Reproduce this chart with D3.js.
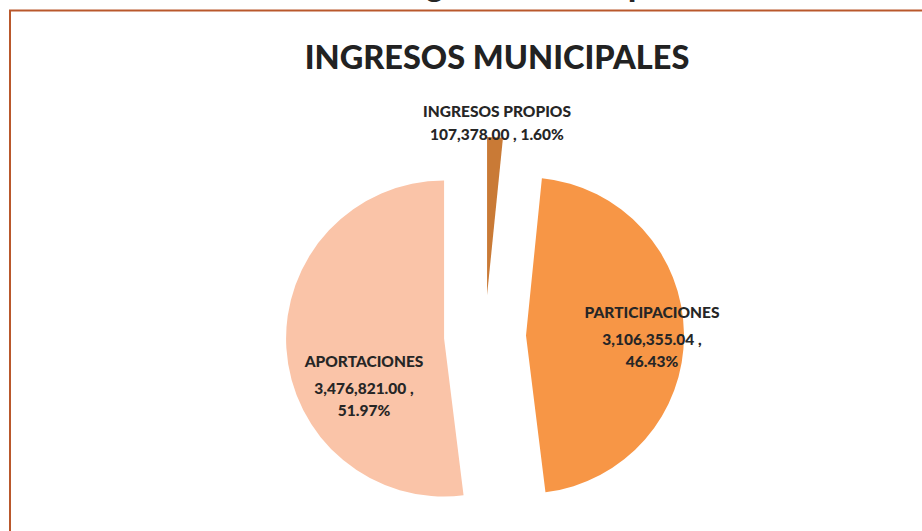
<!DOCTYPE html>
<html>
<head>
<meta charset="utf-8">
<script src="https://cdn.jsdelivr.net/npm/d3@7"></script>
<style>
  body { margin: 0; background: #fff; }
  svg { display: block; }
</style>
</head>
<body>
<div id="chart"></div>
<script>
// *** Data
var categories = ["INGRESOS PROPIOS", "PARTICIPACIONES", "APORTACIONES"];
var amounts = [107378.00, 3106355.04, 3476821.00];
var percents = ["1.60%", "46.43%", "51.97%"];
var colors = ["#c97a36", "#f79646", "#fac4a8"];

var width = 922, height = 531;
var cx = 485, cy = 336, radius = 158, explode = 41;

var svg = d3.select("#chart").append("svg")
    .attr("width", width)
    .attr("height", height);

// heading of the page above, only its descenders show
svg.append("text")
    .attr("x", 398)
    .attr("y", -3)
    .style("font-family", "Lato, 'Open Sans', sans-serif")
    .style("font-weight", "900")
    .style("font-size", "32.5px")
    .attr("fill", "#262626")
    .text("Ingresos Municipales");

// chart frame (left and top edges visible)
svg.append("path")
    .attr("d", "M10,531 L10,10.5 L922,10.5")
    .attr("fill", "none")
    .attr("stroke", "#b9582c")
    .attr("stroke-width", 2);

svg.append("text")
    .attr("x", 497)
    .attr("y", 69)
    .attr("text-anchor", "middle")
    .style("font-family", "Lato, 'Open Sans', sans-serif")
    .style("font-weight", "900")
    .style("font-size", "32.5px")
    .attr("fill", "#222222")
    .text("INGRESOS MUNICIPALES");

var pie = d3.pie().sort(null).value(function(d) { return d; });
var arc = d3.arc().innerRadius(0).outerRadius(radius);
var arcs = pie(amounts);

var g = svg.append("g")
    .attr("transform", "translate(" + cx + "," + cy + ")");

g.selectAll(".slice")
    .data(arcs)
    .enter().append("path")
    .attr("class", "slice")
    .attr("d", arc)
    .attr("fill", function(d, i) { return colors[i]; })
    .attr("transform", function(d) {
        var a = (d.startAngle + d.endAngle) / 2;
        return "translate(" + (Math.sin(a) * explode) + "," + (-Math.cos(a) * explode) + ")";
    });

// *** Labels (placed like the spreadsheet did, relative to the pie centre)
var fmt = d3.format(",.2f");
var labelPos = [
    { x: 12,   y: -219, lines: [0, 23] },
    { x: 167,  y: -18,  lines: [0, 27, 49] },
    { x: -121, y: 31,   lines: [0, 27, 49] }
];

var labels = g.selectAll(".label")
    .data(arcs)
    .enter().append("text")
    .attr("class", "label")
    .attr("text-anchor", "middle")
    .style("font-family", "Lato, 'Open Sans', sans-serif")
    .style("font-weight", "900")
    .style("font-size", "15.5px")
    .attr("fill", "#262626");

labels.each(function(d, i) {
    var t = d3.select(this);
    var p = labelPos[i];
    var rows;
    if (i === 0) rows = [categories[i], fmt(amounts[i]) + " , " + percents[i]];
    else rows = [categories[i], fmt(amounts[i]) + " ,", percents[i]];
    rows.forEach(function(r, k) {
        t.append("tspan")
            .attr("x", p.x)
            .attr("y", p.y + p.lines[k])
            .text(r);
    });
});
</script>
</body>
</html>
